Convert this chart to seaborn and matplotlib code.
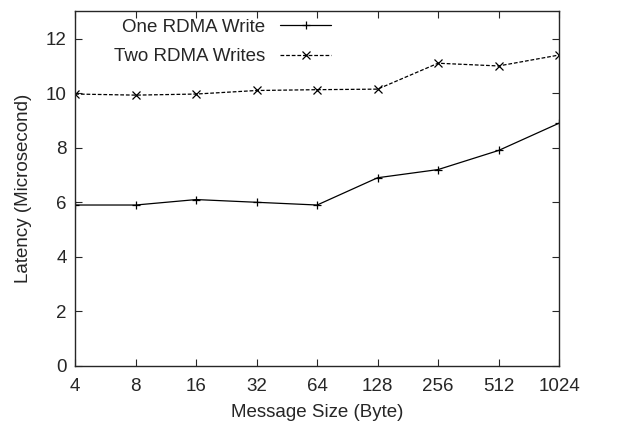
import numpy as np
import pandas as pd
import seaborn as sns
import matplotlib.pyplot as plt

sizes = [4, 8, 16, 32, 64, 128, 256, 512, 1024]
one_write = [5.9, 5.9, 6.1, 6.0, 5.9, 6.9, 7.2, 7.9, 8.9]
two_writes = [9.97, 9.93, 9.97, 10.1, 10.13, 10.15, 11.1, 11.0, 11.4]
series_names = ["One RDMA Write", "Two RDMA Writes"]

sns.set_style("ticks")
plt.rcParams["font.family"] = ["Liberation Sans", "DejaVu Sans"]

df = pd.DataFrame({
    "pos": list(range(len(sizes))) * 2,
    "latency": one_write + two_writes,
    "series": [series_names[0]] * len(sizes) + [series_names[1]] * len(sizes),
})

fig, ax = plt.subplots(figsize=(6.17, 4.23), dpi=100)
sns.lineplot(data=df, x="pos", y="latency", hue="series", style="series",
             palette=["black", "black"], dashes=[(None, None), (3, 1.5)],
             markers=["+", "x"], markersize=5.5, markeredgewidth=0.9,
             markeredgecolor="black", linewidth=0.9, ax=ax)

ax.set_xlim(0, len(sizes) - 1)
ax.set_ylim(0, 13)
ax.set_xticks(range(len(sizes)))
ax.set_xticklabels([str(s) for s in sizes])
ax.set_yticks(range(0, 13, 2))
ax.tick_params(direction="in", top=True, right=True, length=5, width=0.8,
               labelsize=13.5, pad=6)
ax.tick_params(axis="x", pad=9)
for s in ax.spines.values():
    s.set_linewidth(1.0)
    s.set_visible(True)
ax.set_xlabel("Message Size (Byte)", fontsize=13.5, labelpad=6)
ax.set_ylabel("Latency (Microsecond)", fontsize=13.5, labelpad=10)

handles, labels = ax.get_legend_handles_labels()
for h in handles:
    h.set_markeredgecolor("black")
ax.legend(handles, labels, loc="upper left", frameon=False, markerfirst=False,
          fontsize=13.5, handlelength=2.7, borderaxespad=0.0,
          bbox_to_anchor=(0.065, 1.0), labelspacing=0.65)

fig.subplots_adjust(left=0.122, right=0.906, top=0.973, bottom=0.135)
fig.savefig("out.png", dpi=100)
